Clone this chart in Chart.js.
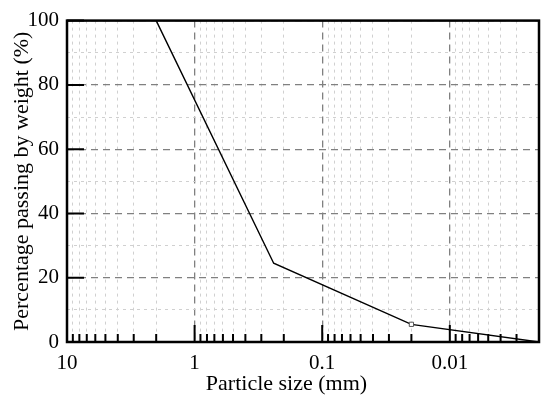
<!DOCTYPE html>
<html>
<head>
<meta charset="utf-8">
<script src="https://cdn.jsdelivr.net/npm/chart.js@4/dist/chart.umd.min.js"></script>
<style>
  html, body { margin: 0; padding: 0; background: #fff; }
  #wrap { width: 550px; height: 402px; }
</style>
</head>
<body>
<div id="wrap"><canvas id="gradingChart"></canvas></div>
<script>
// grading curve
const particleSize = [2, 0.24, 0.02, 0.002];      // mm
const percentPassing = [100, 24.5, 5.5, 0];         // %
const markerRadius = [0, 0, 3, 0];

const xMin = 0.002;
const xMax = 10;
const decadeLabels = [10, 1, 0.1, 0.01];
const yMajor = [0, 20, 40, 60, 80, 100];
const xTitle = 'Particle size (mm)';

const FONT = "'Liberation Serif', 'Times New Roman', serif";

// 10, 9, 8 ... 2, 1, 0.9 ... down to 0.002
function logTicks() {
    const out = [];
    for (let e = 1; e >= -3; e--) {
        const base = Math.pow(10, e - 1);
        for (let m = 10; m >= 1; m--) {
            const v = parseFloat((m * base).toPrecision(3));
            if (v <= xMax && v >= xMin && !out.some(t => Math.abs(t.value - v) < 1e-12)) {
                out.push({ value: v });
            }
        }
    }
    return out;
}

function isDecade(v) {
    return decadeLabels.some(d => Math.abs(d - v) / d < 1e-6);
}

// frame, inward tick marks and the x title (sits a bit left of centre in the original)
const framePlugin = {
    id: 'frame',
    afterDraw(chart) {
        const { ctx, chartArea: a, scales } = chart;
        ctx.save();
        ctx.strokeStyle = '#000';
        ctx.lineWidth = 2;
        ctx.beginPath();
        scales.x.ticks.forEach(t => {
            const px = scales.x.getPixelForValue(t.value);
            const len = isDecade(t.value) ? 17 : 8;
            ctx.moveTo(px, a.bottom);
            ctx.lineTo(px, a.bottom - len);
        });
        yMajor.forEach(v => {
            const py = scales.y.getPixelForValue(v);
            ctx.moveTo(a.left, py);
            ctx.lineTo(a.left + 17, py);
        });
        ctx.stroke();
        ctx.lineWidth = 2.5;
        ctx.strokeRect(a.left, a.top, a.right - a.left, a.bottom - a.top);

        ctx.fillStyle = '#000';
        ctx.font = '22px ' + FONT;
        ctx.textAlign = 'center';
        ctx.textBaseline = 'middle';
        ctx.fillText(xTitle, a.left + (a.right - a.left) * 0.465, a.bottom + 42);
        ctx.restore();
    }
};

new Chart(document.getElementById('gradingChart'), {
    type: 'scatter',
    data: {
        datasets: [{
            data: particleSize.map((s, i) => ({ x: s, y: percentPassing[i] })),
            showLine: true,
            borderColor: '#000',
            borderWidth: 1.4,
            pointStyle: 'rect',
            pointRadius: markerRadius,
            pointBackgroundColor: '#fff',
            pointBorderColor: '#555',
            pointBorderWidth: 1,
            tension: 0
        }]
    },
    options: {
        responsive: true,
        maintainAspectRatio: false,
        animation: false,
        layout: { padding: { left: 0, right: 11, top: 18, bottom: 0 } },
        plugins: { legend: { display: false }, tooltip: { enabled: false } },
        scales: {
            x: {
                type: 'logarithmic',
                reverse: true,
                min: xMin,
                max: xMax,
                afterBuildTicks: scale => { scale.ticks = logTicks(); },
                afterFit: scale => { scale.height = 60; },
                ticks: {
                    autoSkip: false,
                    maxRotation: 0,
                    padding: 9,
                    color: '#000',
                    font: { family: FONT, size: 21 },
                    callback: v => isDecade(v) ? String(v) : ''
                },
                grid: {
                    drawTicks: false,
                    color: c => isDecade(c.tick.value) ? '#808080' : '#d0d0d0',
                    lineWidth: c => isDecade(c.tick.value) ? 1.3 : 1
                },
                border: {
                    display: false,
                    dash: c => (c.tick && isDecade(c.tick.value)) ? [7, 5] : [3, 4]
                }
            },
            y: {
                min: 0,
                max: 100,
                afterFit: scale => { scale.width = 67; },
                ticks: {
                    stepSize: 10,
                    padding: 8,
                    color: '#000',
                    font: { family: FONT, size: 21 },
                    callback: v => v % 20 === 0 ? String(v) : ''
                },
                grid: {
                    drawTicks: false,
                    color: c => c.tick.value % 20 === 0 ? '#808080' : '#d0d0d0',
                    lineWidth: c => c.tick.value % 20 === 0 ? 1.3 : 1
                },
                border: {
                    display: false,
                    dash: c => (c.tick && c.tick.value % 20 === 0) ? [7, 5] : [3, 4]
                },
                title: {
                    display: true,
                    text: 'Percentage passing by weight (%)',
                    color: '#000',
                    font: { family: FONT, size: 22 },
                    padding: { top: 9, bottom: 0 }
                }
            }
        }
    },
    plugins: [framePlugin]
});
</script>
</body>
</html>
